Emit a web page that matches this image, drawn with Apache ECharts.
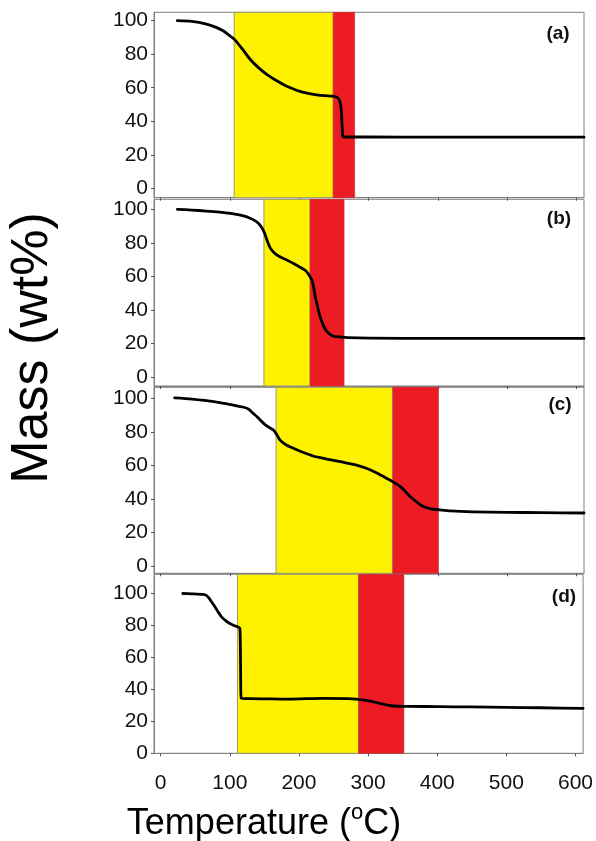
<!DOCTYPE html>
<html>
<head>
<meta charset="utf-8">
<script src="https://cdn.jsdelivr.net/npm/echarts@6/dist/echarts.min.js"></script>
<style>
html,body{margin:0;padding:0;background:#fff;}
#chart{width:596px;height:841px;}
</style>
</head>
<body>
<div id="chart"></div>
<script>
// ---------- data ----------
var panelLabels = ['(a)', '(b)', '(c)', '(d)'];
var xTicks = [0, 100, 200, 300, 400, 500, 600];
var yTicks = [0, 20, 40, 60, 80, 100];

var tempA = [24, 45, 66, 80, 90, 98, 106, 118, 129, 141, 153, 165, 177, 189, 201, 213, 225, 237, 248, 254, 258, 260, 261, 262, 263, 266, 300, 400, 500, 611];
var massA = [100, 99.6, 98, 96, 94, 91.5, 89, 83, 77, 72, 68, 64.8, 62, 59.7, 57.8, 56.6, 55.8, 55.3, 55, 54.4, 52.6, 49, 44, 36, 30.8, 30.6, 30.6, 30.5, 30.5, 30.5];

var tempB = [24, 45, 66, 85, 105, 118, 129, 136, 141, 146, 150, 154, 158, 164, 172, 182, 191, 200, 208, 213, 218, 221, 223, 227, 230, 235, 240, 247, 254, 270, 302, 400, 500, 611];
var massB = [100, 99.6, 99, 98.3, 97.3, 96.2, 94.7, 93.3, 91.7, 89, 85.7, 81, 77, 74, 71.7, 69.8, 67.8, 65.8, 63.8, 61.5, 57.8, 53, 48, 41, 36, 30.5, 27, 24.8, 24, 23.5, 23.2, 23, 23, 23];

var tempC = [20, 45, 66, 85, 105, 120, 127, 133, 139, 145, 151, 157, 163, 168, 172, 180, 191.5, 205, 220, 240, 259, 280, 297, 312, 326, 336, 346, 353, 360, 370, 379, 390, 403, 418, 450, 500, 550, 611];
var massC = [100.3, 99.6, 98.6, 97.5, 96, 94.7, 93.5, 91.2, 89, 86.5, 84.2, 82.5, 81, 78, 75.2, 72.5, 70.2, 67.8, 65.6, 63.8, 62.2, 60.5, 58.3, 55.5, 52.3, 50, 47.3, 44.5, 41.4, 38, 35.4, 34, 33.4, 32.8, 32.3, 32, 31.8, 31.6];

var tempD = [32, 45, 61.5, 66, 69, 74, 78.4, 83, 88, 94, 100, 107, 114.5, 115.5, 116.5, 130, 160, 186.7, 234.8, 270, 283, 295, 307, 320, 336, 360, 403, 450, 500, 550, 611];
var massD = [100, 99.8, 99.4, 98.8, 97.5, 94.5, 91.7, 88.5, 85.4, 83, 81.2, 79.8, 78.1, 56, 34.4, 34.2, 34, 33.9, 34.4, 34.2, 33.9, 33.3, 32.3, 30.9, 29.6, 29.4, 29.2, 29, 28.7, 28.5, 28.1];

// [start, end] temperature of shaded regions
var yellowA = [106, 249], redA = [249, 280];
var yellowB = [149, 215.6], redB = [215.6, 264.7];
var yellowC = [166.5, 335], redC = [335, 401];
var yellowD = [111, 286.3], redD = [286.3, 351.8];

var xMin = -9.7, xMax = 611;
var yRanges = [[-5.6, 105], [-5.4, 106], [-4.4, 106.6], [0, 112]];

// ---------- build ----------
var temps = [tempA, tempB, tempC, tempD];
var masses = [massA, massB, massC, massD];
var yellows = [yellowA, yellowB, yellowC, yellowD];
var reds = [redA, redB, redC, redD];

var gridBoxes = [
  {top: 12.3, height: 185.4},
  {top: 199.3, height: 186.7},
  {top: 387.3, height: 186},
  {top: 574.3, height: 179}
];
var labelPos = [[558, 34], [559, 219], [560, 405], [564, 597]];

var FONT = '"Liberation Sans", Arial, sans-serif';
var axisGray = '#808080';

var grids = [], xAxes = [], yAxes = [], series = [], graphics = [];
for (var i = 0; i < 4; i++) {
  grids.push({
    left: 154, right: 12, top: gridBoxes[i].top, height: gridBoxes[i].height,
    show: true, borderColor: axisGray, borderWidth: 1, backgroundColor: 'transparent'
  });
  xAxes.push({
    type: 'value', gridIndex: i, min: xMin, max: xMax,
    axisLine: {show: true, onZero: false, lineStyle: {color: axisGray, width: 1}},
    axisTick: {show: true, inside: false, length: 3, customValues: xTicks, lineStyle: {color: '#555'}},
    axisLabel: {show: i === 3, customValues: xTicks, margin: 19, fontSize: 21, color: '#111', fontFamily: FONT},
    splitLine: {show: false}
  });
  yAxes.push({
    type: 'value', gridIndex: i, min: yRanges[i][0], max: yRanges[i][1],
    axisLine: {show: true, onZero: false, lineStyle: {color: axisGray, width: 1}},
    axisTick: {show: true, inside: false, length: 3, customValues: yTicks, lineStyle: {color: '#555'}},
    axisLabel: {show: true, customValues: yTicks, margin: 6, fontSize: 21, color: '#111', fontFamily: FONT},
    splitLine: {show: false}
  });
  var pts = temps[i].map(function (t, k) { return [t, masses[i][k]]; });
  series.push({
    type: 'line', xAxisIndex: i, yAxisIndex: i, data: pts,
    showSymbol: false, smooth: 0.25,
    lineStyle: {color: '#000', width: 2.8, join: 'round', cap: 'round'},
    z: 5,
    markArea: {
      silent: true,
      data: [
        [{xAxis: yellows[i][0], itemStyle: {color: '#FFF200', borderColor: '#9a9a70', borderWidth: 1}}, {xAxis: yellows[i][1]}],
        [{xAxis: reds[i][0], itemStyle: {color: '#ED1C24', borderColor: '#c8222a', borderWidth: 0.5}}, {xAxis: reds[i][1]}]
      ]
    }
  });
  graphics.push({
    type: 'text', x: labelPos[i][0], y: labelPos[i][1], z: 10,
    style: {text: panelLabels[i], font: 'bold 19px ' + FONT, fill: '#111', textAlign: 'center', textVerticalAlign: 'middle'}
  });
}

graphics.push({
  type: 'text', x: 33, y: 348, rotation: Math.PI / 2, z: 10,
  style: {text: 'Mass (wt%)', font: '52px ' + FONT, fill: '#000', textAlign: 'center', textVerticalAlign: 'middle'}
});
graphics.push({
  type: 'text', x: 264, y: 822, z: 10,
  style: {
    text: '{t|Temperature (}{sup|o}{t|C)}',
    fill: '#000',
    textAlign: 'center', textVerticalAlign: 'middle',
    rich: {
      t: {fontSize: 36, fontFamily: FONT, lineHeight: 40, verticalAlign: 'bottom', fill: '#000'},
      sup: {fontSize: 22, fontFamily: FONT, lineHeight: 22, verticalAlign: 'top', fill: '#000'}
    }
  }
});

var chart = echarts.init(document.getElementById('chart'), null, {renderer: 'canvas'});
chart.setOption({
  animation: false,
  backgroundColor: '#fff',
  grid: grids,
  xAxis: xAxes,
  yAxis: yAxes,
  series: series,
  graphic: graphics
});
</script>
</body>
</html>
